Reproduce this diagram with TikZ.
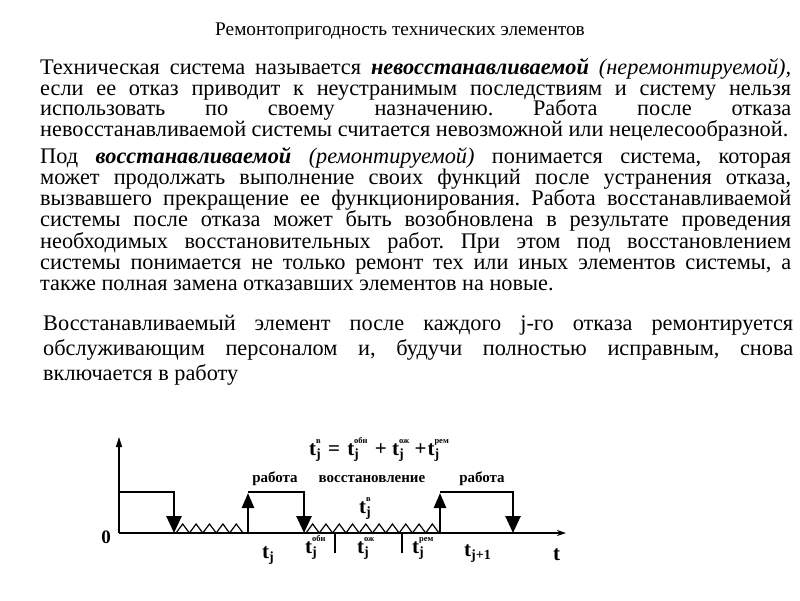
\documentclass[tikz,border=0pt]{standalone}
\usepackage{fontspec}
\setmainfont{Liberation Serif}
\usetikzlibrary{arrows.meta}
\frenchspacing
\newcommand{\tsub}[1]{t\raisebox{-3.5pt}{\fontsize{14}{14}\selectfont #1}}
\newcommand{\tss}[2]{t\rlap{\raisebox{-3.5pt}{\fontsize{14}{14}\selectfont #1}}\raisebox{11.5pt}{\fontsize{8.5}{8.5}\selectfont #2}}
\newcommand{\fullrow}[2]{\makebox[#1][s]{#2}}

\tikzset{
	body/.style={anchor=base west, inner sep=0pt, font=\fontsize{22.3}{22.3}\selectfont},
	lbl/.style={inner sep=0pt, font=\bfseries\fontsize{15}{15}\selectfont},
	tlab/.style={anchor=base west, inner sep=0pt, font=\bfseries\fontsize{21}{21}\selectfont},
	fall/.style={line width=2.6pt, -{Triangle[length=17pt,width=15pt]}},
	rise/.style={line width=2.6pt, -{Triangle[length=15pt,width=12pt]}},
	saw/.style={line width=1.2pt},
}

\begin{document}
\begin{tikzpicture}[x=1pt, y=-1pt]
			%%%%% START %%%%%
			
			\useasboundingbox (0,0) rectangle (800,600);
			\fill[white] (0,0) rectangle (800,600);
			
			\node[anchor=base, inner sep=0pt, font=\fontsize{19.3}{19.3}\selectfont] (title) at (400,35) {Ремонтопригодность технических элементов};
			
			\node[body] (p1a) at (40,74) {\fullrow{751pt}{Техническая система называется \textbf{\textit{невосстанавливаемой}} \textit{(неремонтируемой),}}};
			\node[body] (p1b) at (40,95) {\fullrow{751pt}{если ее отказ приводит к неустранимым последствиям и систему нельзя}};
			\node[body] (p1c) at (40,115) {\fullrow{751pt}{использовать по своему назначению. Работа после отказа}};
			\node[body] (p1d) at (40,136) {невосстанавливаемой системы считается невозможной или нецелесообразной.};
			
			\node[body] (p2a) at (40,163) {\fullrow{751pt}{Под \textbf{\textit{восстанавливаемой}} \textit{(ремонтируемой)} понимается система, которая}};
			\node[body] (p2b) at (40,184.3) {\fullrow{751pt}{может продолжать выполнение своих функций после устранения отказа,}};
			\node[body] (p2c) at (40,205.6) {\fullrow{751pt}{вызвавшего прекращение ее функционирования. Работа восстанавливаемой}};
			\node[body] (p2d) at (40,226.9) {\fullrow{751pt}{системы после отказа может быть возобновлена в результате проведения}};
			\node[body] (p2e) at (40,248.2) {\fullrow{751pt}{необходимых восстановительных работ. При этом под восстановлением}};
			\node[body] (p2f) at (40,269.5) {\fullrow{751pt}{системы понимается не только ремонт тех или иных элементов системы, а}};
			\node[body] (p2g) at (40,290.8) {также полная замена отказавших элементов на новые.};
			
			\node[body] (p3a) at (43,330) {\fullrow{750pt}{Восстанавливаемый элемент после каждого j-го отказа ремонтируется}};
			\node[body] (p3b) at (43,355) {\fullrow{750pt}{обслуживающим персоналом и, будучи полностью исправным, снова}};
			\node[body] (p3c) at (43,380) {включается в работу};
			
			% axes
			\draw[line width=1.3pt, -{Triangle[length=10pt,width=6pt]}] (119,533) -- (119,437);
			\draw[line width=1.6pt, -{Stealth[length=9pt,width=6pt]}] (119,533) -- (566,533);
			\node[anchor=base, inner sep=0pt, font=\bfseries\fontsize{19}{19}\selectfont] (zero) at (106,543) {0};
			
			% pulses
			\draw[fall] (119,492) -- (174,492) -- (174,533);
			\draw[rise] (248,533) -- (248,493);
			\draw[fall] (248,492) -- (304,492) -- (304,533);
			\draw[rise] (440,533) -- (440,493);
			\draw[fall] (440,492) -- (513,492) -- (513,533);
			
			% repair saw
			\foreach \i in {0,...,4}
				\draw[saw] ({176+13.4*\i},533) -- ++(6.7,-9) -- ++(6.7,9);
			\foreach \i in {0,...,9}
				\draw[saw] ({306+13.3*\i},533) -- ++(6.65,-9) -- ++(6.65,9);
			
			\draw[line width=1.2pt] (335,533) -- (335,553);
			\draw[line width=1.2pt] (402,533) -- (402,553);
			
			\node[lbl] (work1) at (275,479) {работа};
			\node[lbl] (recov) at (372,479) {восстановление};
			\node[lbl] (work2) at (482,479) {работа};
			
			\node[tlab] (sum) at (309,455) {\tss{j}{в}\hspace{2pt} = \hspace{2pt}\tss{j}{обн}\hspace{2pt} + \tss{j}{ож} +\hspace{1pt}\tss{j}{рем}};
			\node[tlab] (tb) at (359,513) {\tss{j}{в}};
			
			\node[tlab] (tj) at (262,558) {\tsub{j}};
			\node[tlab] (tdet) at (305,553) {\tss{j}{обн}};
			\node[tlab] (twait) at (357,553) {\tss{j}{ож}};
			\node[tlab] (trep) at (412,553) {\tss{j}{рем}};
			\node[tlab] (tnext) at (464,556) {\tsub{j+1}};
			\node[tlab] (taxis) at (553,560) {t};
			
			%%%%% END %%%%%
\end{tikzpicture}
\end{document}
